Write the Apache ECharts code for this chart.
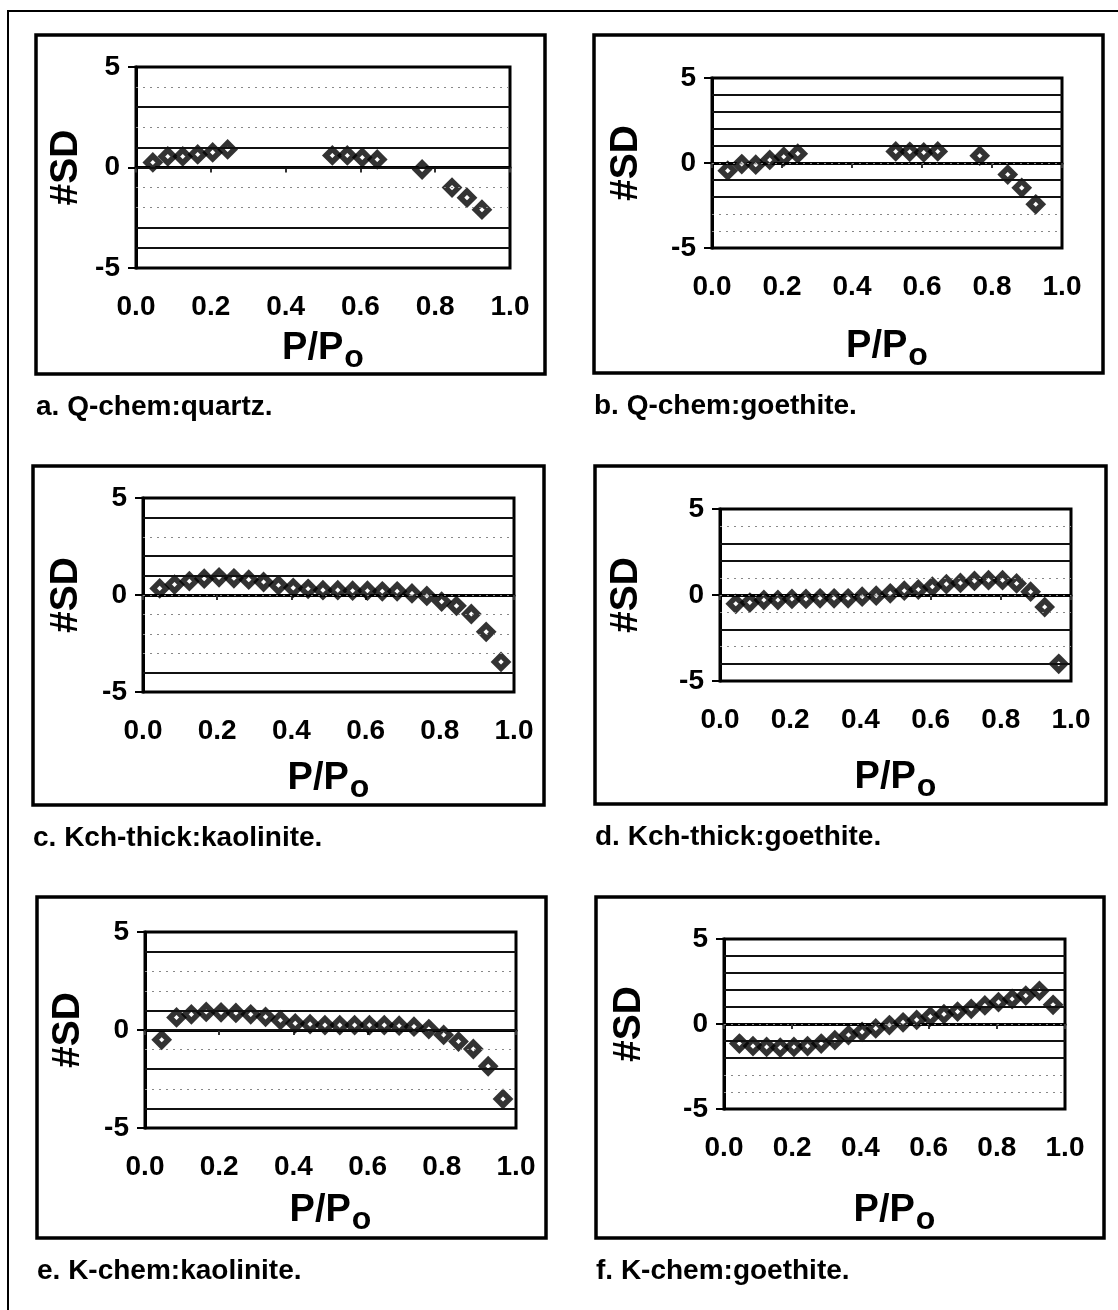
<!DOCTYPE html>
<html><head><meta charset="utf-8">
<script src="https://cdn.jsdelivr.net/npm/echarts@6/dist/echarts.min.js"></script>
<style>html,body{margin:0;padding:0;background:#fff}#c{width:1118px;height:1310px}</style>
</head><body><div id="c"></div>
<script>
// ---------- data ----------
const captions = ['a. Q-chem:quartz.', 'b. Q-chem:goethite.', 'c. Kch-thick:kaolinite.', 'd. Kch-thick:goethite.', 'e. K-chem:kaolinite.', 'f. K-chem:goethite.'];
const xTickLabels = ['0.0', '0.2', '0.4', '0.6', '0.8', '1.0'];
const yTickLabels = ['-5', '0', '5'];
const pQ = [0.045, 0.085, 0.125, 0.165, 0.205, 0.245, 0.525, 0.565, 0.605, 0.645, 0.765, 0.845, 0.885, 0.925];
const sdA = [0.25, 0.55, 0.55, 0.65, 0.75, 0.9, 0.6, 0.6, 0.5, 0.4, -0.1, -1.0, -1.5, -2.1];
const sdB = [-0.45, -0.06, -0.1, 0.18, 0.37, 0.55, 0.68, 0.66, 0.62, 0.68, 0.43, -0.68, -1.46, -2.43];
const pK = [0.045, 0.085, 0.125, 0.165, 0.205, 0.245, 0.285, 0.325, 0.365, 0.405, 0.445, 0.485, 0.525, 0.565, 0.605, 0.645, 0.685, 0.725, 0.765, 0.805, 0.845, 0.885, 0.925, 0.965];
const sdC = [0.34, 0.54, 0.71, 0.84, 0.91, 0.86, 0.79, 0.67, 0.5, 0.37, 0.32, 0.25, 0.25, 0.22, 0.22, 0.19, 0.19, 0.08, -0.05, -0.34, -0.56, -0.98, -1.9, -3.45];
const sdD = [-0.51, -0.44, -0.29, -0.29, -0.23, -0.23, -0.19, -0.19, -0.19, -0.1, -0.04, 0.1, 0.25, 0.32, 0.48, 0.63, 0.7, 0.82, 0.86, 0.86, 0.67, 0.19, -0.7, -4.0];
const sdE = [-0.5, 0.64, 0.8, 0.92, 0.9, 0.87, 0.8, 0.67, 0.5, 0.34, 0.3, 0.25, 0.25, 0.25, 0.25, 0.25, 0.22, 0.17, 0.05, -0.25, -0.59, -0.97, -1.85, -3.52];
const sdF = [-1.15, -1.3, -1.35, -1.39, -1.35, -1.3, -1.15, -0.95, -0.65, -0.46, -0.26, -0.06, 0.1, 0.24, 0.44, 0.58, 0.73, 0.89, 1.09, 1.29, 1.47, 1.67, 1.95, 1.13];
const panelX = [pQ, pQ, pK, pK, pK, pK];
const panelY = [sdA, sdB, sdC, sdD, sdE, sdF];
// gridline levels (every unit) as they survived the scan: strong vs faint
const strongLines = [[3, 1, 0, -3, -4], [4, 3, 2, 1, -1, -2], [4, 2, 1, -4], [3, 2, -2, -4], [4, 1, 0, -2, -4], [4, 3, 2, 1, -1, -2]];
const faintLines = [[4, 2, -1, -2], [0, -3, -4], [3, 0, -1, -2, -3], [4, 1, 0, -1, -3], [3, 2, -1, -3], [0, -3, -4]];

// ---------- layout (px) ----------
const layout = [
  {box: [36, 35, 545, 374],  grid: [136, 67, 510, 268],   sdX: 66,  pY: 344},
  {box: [594, 35, 1103, 373], grid: [712, 78, 1062, 248],  sdX: 626, pY: 342},
  {box: [33, 466, 544, 805],  grid: [143, 498, 514, 692],  sdX: 66,  pY: 774},
  {box: [595, 466, 1106, 804], grid: [720, 509, 1071, 681], sdX: 626, pY: 773},
  {box: [37, 897, 546, 1238], grid: [145, 932, 516, 1128], sdX: 68,  pY: 1206},
  {box: [596, 897, 1104, 1238], grid: [724, 939, 1065, 1109], sdX: 629, pY: 1206}
];
const FONT = '"Liberation Sans", Arial, sans-serif';

const grids = [], xAxes = [], yAxes = [], series = [], graphics = [];
graphics.push({type: 'polyline', shape: {points: [[8, 1310], [8, 11], [1118, 11]]}, style: {stroke: '#000', lineWidth: 2, fill: null}});
layout.forEach((L, i) => {
  const [gl, gt, gr, gb] = L.grid;
  grids.push({left: gl, top: gt, width: gr - gl, height: gb - gt, show: true, borderColor: '#000', borderWidth: 3, backgroundColor: 'transparent', containLabel: false, outerBoundsMode: 'none'});
  xAxes.push({
    gridIndex: i, type: 'value', min: 0, max: 1, interval: 0.2,
    name: '{p|P/P}{o|o}', nameLocation: 'middle', nameGap: L.pY - gb - 20,
    nameTextStyle: {rich: {
      p: {fontSize: 38, fontWeight: 'bold', fontFamily: FONT, color: '#000'},
      o: {fontSize: 32, fontWeight: 'bold', fontFamily: FONT, color: '#000', padding: [18, 0, 0, 1]}
    }},
    axisLine: {show: true, lineStyle: {color: '#000', width: 3}},
    axisTick: {show: true, length: 5, lineStyle: {color: '#333', width: 2}},
    axisLabel: {margin: 25, fontSize: 28, fontWeight: 'bold', fontFamily: FONT, color: '#000',
      formatter: v => xTickLabels[Math.round(v * 5)]},
    splitLine: {show: false}
  });
  yAxes.push({
    gridIndex: i, type: 'value', min: -5, max: 5, interval: 5,
    name: '#SD', nameLocation: 'middle', nameRotate: 90, nameGap: gl - L.sdX - 20,
    nameTextStyle: {fontSize: 39, fontWeight: 'bold', fontFamily: FONT, color: '#000'},
    axisLine: {show: true, lineStyle: {color: '#000', width: 3}},
    axisTick: {show: true, length: 8, lineStyle: {color: '#000', width: 2}},
    axisLabel: {margin: 16, fontSize: 28, fontWeight: 'bold', fontFamily: FONT, color: '#000',
      formatter: v => yTickLabels[Math.round((v + 5) / 5)]},
    splitLine: {show: false}
  });
  const mk = strongLines[i].map(v => ({yAxis: v, lineStyle: {color: '#111', width: 1.8, type: 'solid'}}))
    .concat(faintLines[i].map(v => ({yAxis: v, lineStyle: {color: '#888', width: 1, type: [2, 5]}})));
  series.push({
    type: 'line', xAxisIndex: i, yAxisIndex: i, data: [], z: 1, silent: true,
    markLine: {silent: true, symbol: ['none', 'none'], label: {show: false}, animation: false, data: mk}
  });
  series.push({
    type: 'scatter', xAxisIndex: i, yAxisIndex: i, z: 3,
    data: panelX[i].map((x, k) => [x, panelY[i][k]]),
    symbol: 'diamond', symbolSize: 13,
    itemStyle: {color: '#fff', borderColor: '#000', borderWidth: 5.5}
  });
  const [bx0, by0, bx1, by1] = L.box;
  graphics.push({type: 'rect', shape: {x: bx0, y: by0, width: bx1 - bx0, height: by1 - by0}, style: {fill: null, stroke: '#000', lineWidth: 3.5}});
  graphics.push({type: 'text', x: bx0, y: by1 + 33, style: {text: captions[i], font: 'bold 28px ' + FONT, fill: '#000', verticalAlign: 'middle', align: 'left'}});
});

const chart = echarts.init(document.getElementById('c'), null, {renderer: 'canvas'});
chart.setOption({
  animation: false,
  backgroundColor: '#fff',
  grid: grids, xAxis: xAxes, yAxis: yAxes, series: series,
  graphic: {elements: graphics}
});
</script></body></html>
